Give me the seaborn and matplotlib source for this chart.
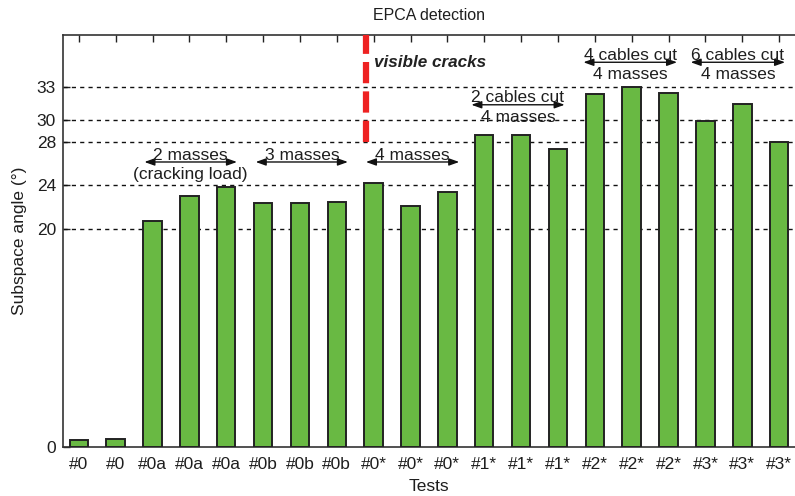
import matplotlib
matplotlib.use("Agg")
import matplotlib.pyplot as plt
import seaborn as sns
import pandas as pd

tests = ["#0", "#0", "#0a", "#0a", "#0a", "#0b", "#0b", "#0b", "#0*", "#0*", "#0*",
         "#1*", "#1*", "#1*", "#2*", "#2*", "#2*", "#3*", "#3*", "#3*"]
angles = [0.6, 0.7, 20.7, 23.0, 23.9, 22.4, 22.4, 22.5, 24.2, 22.1, 23.4,
          28.6, 28.6, 27.3, 32.4, 33.0, 32.5, 29.9, 31.5, 28.0]
yticks = [0, 20, 24, 28, 30, 33]

sns.set_theme(style="white")
plt.rcParams['font.family'] = ['Liberation Sans', 'DejaVu Sans']
txt = "#1e1e1e"
fs = 12.5

df = pd.DataFrame({"pos": list(range(len(tests))), "angle": angles})

fig = plt.figure(figsize=(7.95, 4.96), dpi=100)
ax = fig.add_axes([0.0792, 0.0988, 0.9208, 0.8306])
sns.barplot(data=df, x="pos", y="angle", color="#69b943", saturation=1,
            width=0.5, edgecolor="#222222", linewidth=1.4, ax=ax, zorder=3)

ax.set_xlim(-0.43, 19.43)
ax.set_ylim(0, 37.8)
ax.set_yticks(yticks)
ax.set_xticks(range(len(tests)))
ax.set_xticklabels(tests)
for y in yticks[1:]:
    ax.axhline(y, color="#111111", lw=1.0, ls=(0, (3, 3)), zorder=1)

ax.tick_params(axis="both", direction="in", labelsize=fs, colors="#222222",
               length=5, width=1, top=True, bottom=False, left=True)
ax.tick_params(axis="x", pad=7)
ax.tick_params(axis="y", pad=5)
for lab in ax.get_xticklabels() + ax.get_yticklabels():
    lab.set_color(txt)
for s in ["left", "top", "bottom"]:
    ax.spines[s].set_color("#333333")
    ax.spines[s].set_linewidth(1.2)
ax.spines["right"].set_visible(False)

ax.set_xlabel("Tests", fontsize=fs, color=txt, labelpad=5)
ax.set_ylabel("Subspace angle (°)", fontsize=fs, color=txt, labelpad=7)
ax.set_title("EPCA detection", fontsize=11.5, color=txt, pad=11)

# visible cracks marker
ax.plot([7.78, 7.78], [28.0, 37.8], color="#ee2222", lw=4.5, ls=(0, (3.4, 1.3)), zorder=4,
        clip_on=False)
ax.text(8.0, 35.3, "visible cracks", fontsize=12.3, fontweight="bold", style="italic",
        color="#222222", va="center", ha="left")

def span(x0, x1, y, top=None, bottom=None):
    ax.annotate("", xy=(x0, y), xytext=(x1, y),
                arrowprops=dict(arrowstyle="<|-|>,head_length=0.5,head_width=0.18",
                                color="#111111", lw=1.0, shrinkA=0, shrinkB=0))
    xc = (x0 + x1) / 2
    if top:
        ax.text(xc, y - 0.05, top, ha="center", va="bottom", fontsize=fs, color=txt)
    if bottom:
        ax.text(xc, y - 0.45, bottom, ha="center", va="top", fontsize=fs, color=txt)

span(1.78, 4.29, 26.15, "2 masses", "(cracking load)")
span(4.80, 7.30, 26.15, "3 masses")
span(7.79, 10.32, 26.15, "4 masses")
span(10.65, 13.18, 31.4, "2 cables cut", "4 masses")
span(13.69, 16.23, 35.3, "4 cables cut", "4 masses")
span(16.60, 19.16, 35.3, "6 cables cut", "4 masses")

fig.savefig("out.png", dpi=100)
